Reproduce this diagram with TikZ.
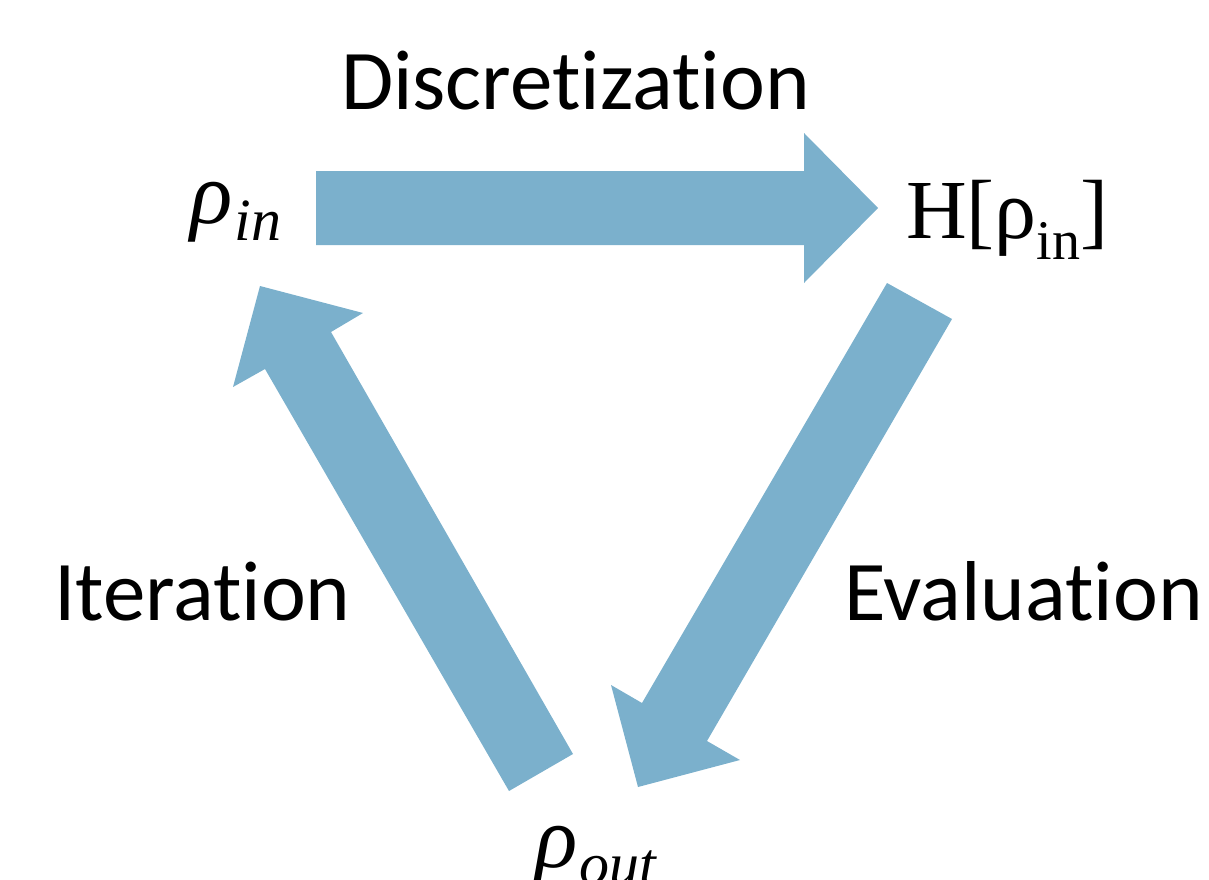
\documentclass[tikz,border=0pt]{standalone}
\usepackage{fontspec}
\setmainfont{Liberation Serif}
\newfontfamily\calib[Ligatures={NoCommon}]{Carlito}
\definecolor{arrowblue}{RGB}{123,176,204}
\tikzset{
  blockarrow/.style={fill=arrowblue, draw=none},
  lbl/.style={anchor=base west, inner sep=0pt, outer sep=0pt, font=\calib\fontsize{85}{90}\selectfont},
  rholbl/.style={anchor=base west, inner sep=0pt, outer sep=0pt, font=\itshape\fontsize{88}{96}\selectfont}
}
\newcommand{\subtxt}[1]{\kern0.03em\raisebox{-0.2em}{\fontsize{60}{62}\selectfont #1}}
\begin{document}
\begin{tikzpicture}[x=1pt,y=-1pt]
\useasboundingbox (0,0) rectangle (1209,880);
% top arrow: Discretization
\fill[blockarrow] (316,171) -- (804,171) -- (804,133) -- (878,208) -- (804,283) -- (804,245) -- (316,245) -- cycle;
% right arrow: Evaluation
\fill[blockarrow] (887,283) -- (952,319) -- (707,741) -- (740,760) -- (638,787) -- (611,685) -- (642,703) -- cycle;
% left arrow: Iteration
\fill[blockarrow] (509,791) -- (573,754) -- (331,332) -- (363,313) -- (260,286) -- (233,387) -- (265,369) -- cycle;
% labels
\node[lbl] (disc) at (341,110) {Discretization};
\node[lbl] (iter) at (54,620) {Iteration};
\node[lbl] (eval) at (844,620) {Evaluation};
\node[rholbl] (rin) at (190,223) {ρ\subtxt{in}};
\node[rholbl] (rout) at (535,867) {ρ\subtxt{out}};
\node[anchor=base west, inner sep=0pt, font=\fontsize{84}{90}\selectfont] (h) at (906,238)
  {H[ρ\raisebox{-0.25em}{\fontsize{56}{60}\selectfont in}]};
\end{tikzpicture}
\end{document}
